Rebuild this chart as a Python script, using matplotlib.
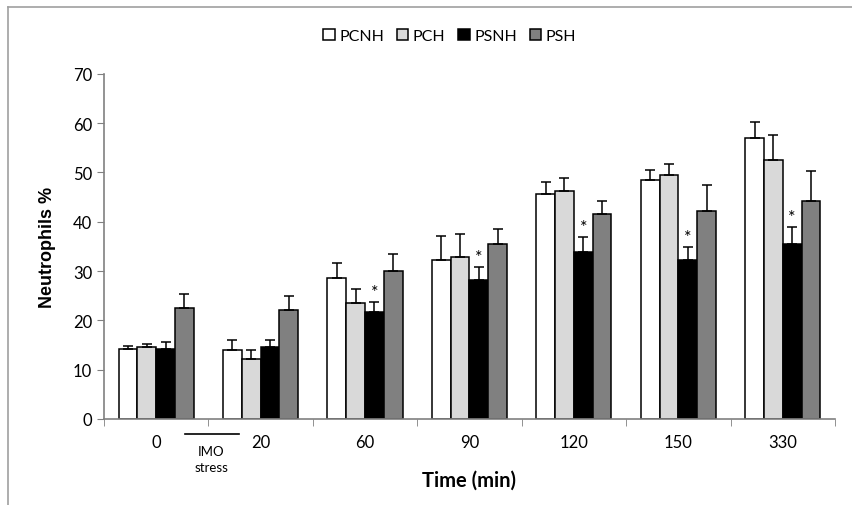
import numpy as np
import matplotlib.pyplot as plt
from matplotlib.lines import Line2D
import matplotlib.transforms as mtransforms

times = ["0", "20", "60", "90", "120", "150", "330"]
series = ["PCNH", "PCH", "PSNH", "PSH"]
colors = ["white", "#d9d9d9", "black", "#808080"]

pcnh = [14.2, 13.9, 28.5, 32.2, 45.6, 48.5, 57.0]
pch = [14.5, 12.1, 23.5, 32.8, 46.2, 49.4, 52.6]
psnh = [14.2, 14.5, 21.8, 28.2, 33.8, 32.3, 35.4]
psh = [22.6, 22.1, 30.0, 35.4, 41.5, 42.1, 44.2]

pcnh_err = [0.6, 2.1, 3.2, 5.0, 2.4, 2.1, 3.3]
pch_err = [0.8, 1.8, 2.9, 4.7, 2.7, 2.4, 5.0]
psnh_err = [1.5, 1.5, 2.0, 2.6, 3.1, 2.6, 3.5]
psh_err = [2.7, 2.9, 3.4, 3.2, 2.7, 5.3, 6.1]

# groups with significance marker on PSNH
star_groups = [2, 3, 4, 5, 6]

values = [pcnh, pch, psnh, psh]
errors = [pcnh_err, pch_err, psnh_err, psh_err]

fig = plt.figure(figsize=(8.52, 5.06), dpi=100)
ax = fig.add_axes([0.122, 0.17, 0.858, 0.682])

x = np.arange(len(times))
w = 0.18
handles = []
for i, (vals, errs) in enumerate(zip(values, errors)):
    pos = x + (i - 1.5) * w
    b = ax.bar(pos, vals, width=w, color=colors[i], edgecolor="black",
               linewidth=1.1, zorder=2)
    ax.errorbar(pos, vals, yerr=[np.zeros(len(errs)), errs], fmt="none",
                ecolor="black", elinewidth=1.1, capsize=3.5, capthick=1.1, zorder=3)
    handles.append(b)

for g in star_groups:
    px = x[g] + 0.5 * w
    ax.text(px, psnh[g] + psnh_err[g] + 0.4, "*", ha="center", va="bottom",
            fontsize=13, family="Lato")

ax.set_xlim(-0.5, len(times) - 0.5)
ax.set_ylim(0, 70)
ax.set_yticks(range(0, 71, 10))
ax.set_xticks(x)
ax.set_xticklabels(times)
ax.set_xticks(np.arange(-0.5, len(times), 1.0), minor=True)
ax.tick_params(axis="x", which="major", length=0, pad=11)
ax.tick_params(axis="x", which="minor", length=5, direction="out", color="#808080")
ax.tick_params(axis="y", length=5, color="#808080")
for lab in ax.get_xticklabels() + ax.get_yticklabels():
    lab.set_family("Lato")
    lab.set_fontsize(12)

for s in ["top", "right"]:
    ax.spines[s].set_visible(False)
for s in ["left", "bottom"]:
    ax.spines[s].set_color("#808080")
    ax.spines[s].set_linewidth(1.2)

ax.set_ylabel("Neutrophils %", fontsize=13, fontweight="bold",
              family="Liberation Sans", labelpad=12)
ax.set_xlabel("Time (min)", fontsize=14.5, fontweight="bold", family="Lato",
              labelpad=14)

# IMO stress annotation
trans = mtransforms.blended_transform_factory(ax.transData, ax.transAxes)
ax.add_line(Line2D([0.28, 0.79], [-0.043, -0.043], transform=trans,
                   color="black", linewidth=1.2, clip_on=False))
ax.text(0.53, -0.092, "IMO", transform=trans, ha="center", va="center",
        fontsize=9.5, family="Lato")
ax.text(0.53, -0.138, "stress", transform=trans, ha="center", va="center",
        fontsize=9.5, family="Lato")

leg = fig.legend(handles, series, loc="center", bbox_to_anchor=(0.528, 0.927),
                 ncol=4, frameon=False, handlelength=0.7, handleheight=0.7,
                 handletextpad=0.3, columnspacing=0.8,
                 prop={"family": "Lato", "size": 11.5})

# chart-area border
fig.add_artist(Line2D([8 / 852, 8 / 852], [0, 1 - 8 / 506], color="#a0a0a0",
                      linewidth=1.2, transform=fig.transFigure))
fig.add_artist(Line2D([8 / 852, 1], [1 - 8 / 506, 1 - 8 / 506], color="#a0a0a0",
                      linewidth=1.2, transform=fig.transFigure))

fig.savefig("out.png", dpi=100)
